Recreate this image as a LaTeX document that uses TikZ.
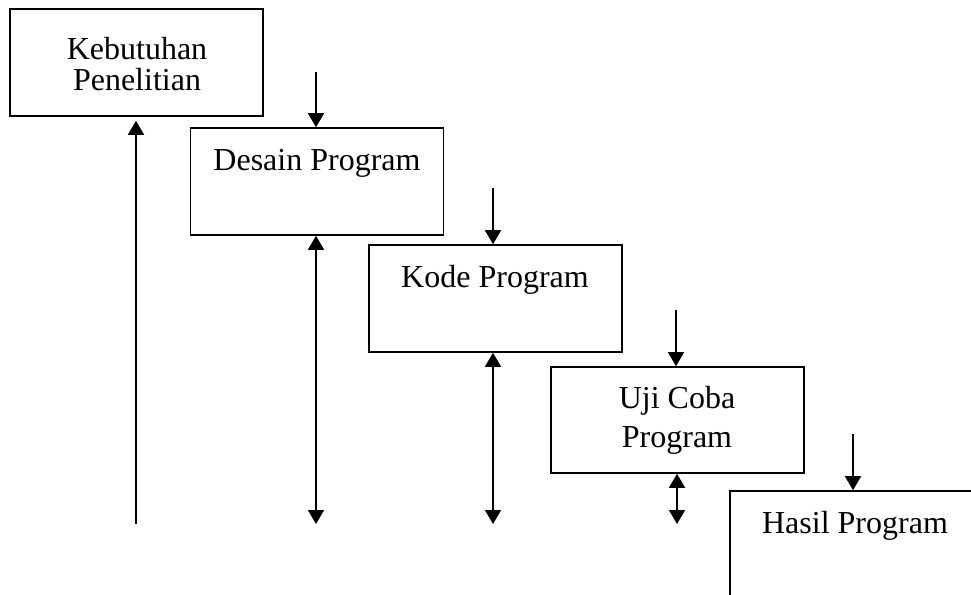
\documentclass[tikz,border=0pt]{standalone}
\usepackage{fontspec}
\setmainfont{Liberation Serif}
\usetikzlibrary{arrows.meta}
\begin{document}
\begin{tikzpicture}[x=1pt,y=-1pt,
  box/.style={draw=black,line width=1.6pt,minimum width=253pt,minimum height=107pt,inner sep=0pt},
  lbl/.style={inner sep=0pt,align=center,font=\fontsize{32}{31}\selectfont},
  lbltwo/.style={inner sep=0pt,align=center,font=\fontsize{32}{39}\selectfont},
  arr/.style={line width=1.6pt,-{Triangle[length=14pt,width=16pt]}},
  darr/.style={line width=1.6pt,{Triangle[length=14pt,width=16pt]}-{Triangle[length=14pt,width=16pt]}}]
\useasboundingbox (0,0) rectangle (971,594);
\clip (0,0) rectangle (971,594);
\fill[white] (0,0) rectangle (971,594);
% boxes
\node[box] (b1) at (136.5,62.5) {};
\node[box] (b2) at (317,181.5) {};
\node[box] (b3) at (495.5,298.5) {};
\node[box,minimum height=106pt] (b4) at (677.5,420) {};
\node[box] (b5) at (856.5,544.5) {};
% labels
\node[lbl] (t1) at (137,64) {Kebutuhan\\Penelitian};
\node[lbl] (t2) at (317,163) {Desain Program};
\node[lbl] (t3) at (495,280) {Kode Program};
\node[lbltwo] (t4) at (677,420) {Uji Coba\\Program};
\node[lbl] (t5) at (855,526) {Hasil Program};
% coordinates
\coordinate (s1) at (316,72);
\coordinate (s2) at (493,188);
\coordinate (s3) at (676,310);
\coordinate (s4) at (853,434);
\coordinate (u0) at (136,524);
\coordinate (e2) at (316,524);
\coordinate (e3) at (493,524);
\coordinate (e4) at (677,524);
% down arrows
\draw[arr] (s1) -- (s1 |- b2.north);
\draw[arr] (s2) -- (s2 |- b3.north);
\draw[arr] (s3) -- (s3 |- b4.north);
\draw[arr] (s4) -- (s4 |- b5.north);
% feedback arrows
\draw[arr,shorten >=4pt] (u0) -- (u0 |- b1.south);
\draw[darr] (e2 |- b2.south) -- (e2);
\draw[darr] (e3 |- b3.south) -- (e3);
\draw[darr] (e4 |- b4.south) -- (e4);
\end{tikzpicture}
\end{document}
